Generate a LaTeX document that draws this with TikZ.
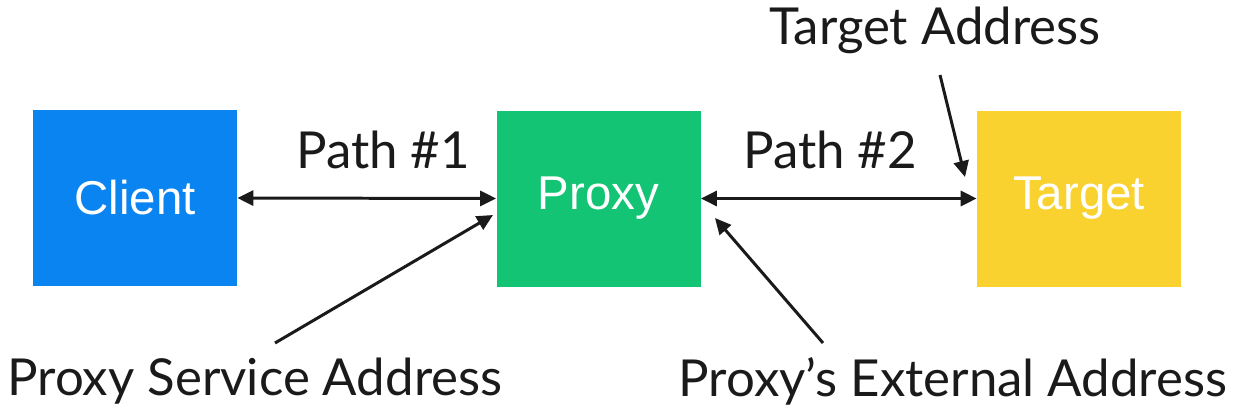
\documentclass[tikz,border=0pt]{standalone}
\usepackage{fontspec}
\setmainfont{Lato}
\newfontfamily\boxfont{Liberation Sans}
\usetikzlibrary{arrows.meta,positioning}
\definecolor{clientblue}{HTML}{0A84F0}
\definecolor{proxygreen}{HTML}{12C474}
\definecolor{targetyellow}{HTML}{F9D22F}
\definecolor{inkgray}{HTML}{1A1A1A}

\tikzset{
  hostbox/.style={minimum width=4.08cm,minimum height=3.52cm,inner sep=0pt,
                  text=white,font=\boxfont\fontsize{27}{32}\selectfont},
  lbl/.style={text=inkgray,inner sep=0pt,font=\fontsize{29}{35}\selectfont},
  link/.style={draw=inkgray,line width=1.7pt,{Triangle[length=0.32cm,width=0.3cm]}-{Triangle[length=0.32cm,width=0.3cm]}},
  pointer/.style={draw=inkgray,line width=1.7pt,-{Triangle[length=0.32cm,width=0.3cm]}}
}

\begin{document}
\begin{tikzpicture}
  \useasboundingbox (0,0) rectangle (24.66,8.22);

  % the three hosts
  \node[hostbox,fill=clientblue] (client) at (2.70,4.26) {Client};
  \node[hostbox,fill=proxygreen] (proxy) at (11.97,4.25) {Proxy};
  \node[hostbox,fill=targetyellow] (target) at (21.58,4.25) {Target};

  % paths between them
  \draw[link] (client.east) -- (proxy.west);
  \draw[link] (proxy.east) -- (target.west);
  \node[lbl] (path1) at (7.66,5.22) {Path \#1};
  \node[lbl] (path2) at (16.60,5.22) {Path \#2};

  % addresses
  \node[lbl] (tgtaddr) at (18.70,7.62) {Target Address};
  \node[lbl] (svcaddr) at (5.10,0.60) {Proxy Service Address};
  \node[lbl] (extaddr) at (19.06,0.60) {Proxy’s External Address};

  \coordinate (tgtfrom) at (18.80,6.72);
  \coordinate (tgtto) at (19.30,4.68);
  \coordinate (svcfrom) at (5.50,1.36);
  \coordinate (svcto) at (9.86,3.92);
  \coordinate (extfrom) at (16.46,1.36);
  \coordinate (extto) at (14.30,3.86);

  \draw[pointer] (tgtfrom) -- (tgtto);
  \draw[pointer] (svcfrom) -- (svcto);
  \draw[pointer] (extfrom) -- (extto);
\end{tikzpicture}
\end{document}
